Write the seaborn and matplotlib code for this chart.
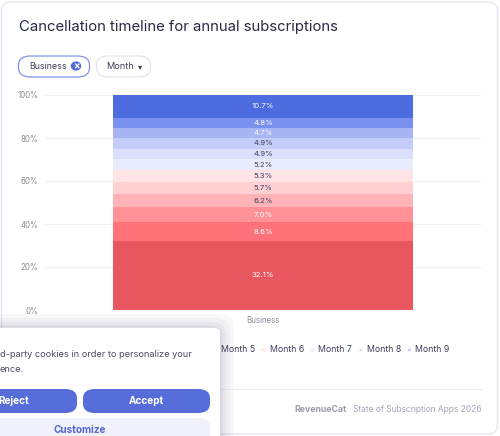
import matplotlib
matplotlib.use("Agg")
import matplotlib.pyplot as plt
import seaborn as sns
import numpy as np
import pandas as pd
from matplotlib.patches import FancyBboxPatch, Circle

# ---- data ----
category = "Business"
months = [f"Month {i}" for i in range(1, 13)]
shares = [32.1, 8.6, 7.0, 6.2, 5.7, 5.3, 5.2, 4.9, 4.9, 4.7, 4.8, 10.7]
colors = ["#E85760", "#FF7279", "#FF9297", "#FFB3B7", "#FFCFD2", "#FFE3E5",
          "#E9ECFD", "#DAE0FB", "#C4CDF8", "#A6B4F4", "#7A90EE", "#4C6CDF"]
label_dark = [False, False, False, True, True, True, True, True, True, False, False, False]
yticks = [0, 20, 40, 60, 80, 100]
ytick_labels = [f"{t}%" for t in yticks]
visible_legend = months[4:9]  # Months 1-4 are hidden behind the cookie banner

W, H = 500, 436
sns.set_theme(style="white")
plt.rcParams["font.family"] = ["Inter", "DejaVu Sans"]

fig = plt.figure(figsize=(W / 100, H / 100), dpi=100)
fig.patch.set_facecolor("white")

def fx(x):
    return x / W

def fy(y):
    return 1 - y / H

# card
card = FancyBboxPatch((fx(1.5), fy(434)), fx(496), 432 / H,
                      boxstyle="round,pad=0,rounding_size=0.02",
                      transform=fig.transFigure, facecolor="white",
                      edgecolor="#E3E5F6", linewidth=1.0, zorder=0)
fig.add_artist(card)

# title
fig.text(fx(19), fy(27), "Cancellation timeline for annual subscriptions",
         fontsize=10.7, color="#262A45", va="center", ha="left")

# chips
chip1 = FancyBboxPatch((fx(18.5), fy(77)), fx(71), 21 / H,
                       boxstyle="round,pad=0,rounding_size=0.024",
                       transform=fig.transFigure, facecolor="white",
                       edgecolor="#8391EA", linewidth=0.9, mutation_aspect=H / W)
fig.add_artist(chip1)
fig.text(fx(29), fy(66.5), "Business", fontsize=6.4, color="#3C4059", va="center")
fig.add_artist(Circle((fx(76), fy(66)), 0.0105, transform=fig.transFigure,
                      facecolor="#5469D9", edgecolor="none"))
fig.text(fx(76), fy(66.3), "×", fontsize=7, color="white", va="center", ha="center",
         fontweight="bold")
chip2 = FancyBboxPatch((fx(96.5), fy(77)), fx(54), 21 / H,
                       boxstyle="round,pad=0,rounding_size=0.024",
                       transform=fig.transFigure, facecolor="white",
                       edgecolor="#E4E5EC", linewidth=0.9, mutation_aspect=H / W)
fig.add_artist(chip2)
fig.text(fx(106), fy(66.5), "Month", fontsize=6.6, color="#3C4059", va="center")
fig.text(fx(138), fy(66.5), "▾", fontsize=6, color="#3C4059", va="center",
         family="DejaVu Sans")

# ---- plot ----
ax = fig.add_axes([fx(45), fy(310), fx(481) - fx(45), (310 - 95) / H])
ax.set_facecolor("none")
cum = np.cumsum(shares)
df = pd.DataFrame({"cat": [category] * 12, "month": months, "top": cum})
# draw cumulative stacks from top down so each lower segment overlays
for i in range(11, -1, -1):
    sns.barplot(data=df.iloc[[i]], x="cat", y="top", color=colors[i], width=0.69,
                ax=ax, saturation=1, edgecolor="none", linewidth=0, zorder=2)
bottoms = cum - np.array(shares)
for i, v in enumerate(shares):
    ax.text(0, bottoms[i] + v / 2, f"{v:.1f}%", ha="center", va="center",
            fontsize=5.6, color="#3D4160" if label_dark[i] else "white", zorder=3)

ax.set_ylim(0, 100)
ax.set_xlim(-0.5, 0.5)
ax.set_yticks(yticks)
ax.set_yticklabels(ytick_labels, fontsize=5.7, color="#8A8C99")
ax.yaxis.grid(True, color="#EFEFF3", linewidth=0.8, zorder=0)
ax.set_axisbelow(True)
for s in ax.spines.values():
    s.set_visible(False)
ax.tick_params(axis="both", length=0, pad=5)
ax.tick_params(axis="x", labelsize=5.7, labelcolor="#8A8C99", pad=4)
ax.set_xlabel("")
ax.set_ylabel("")

# legend (visible part of the row)
for j, m in enumerate(visible_legend):
    i = months.index(m)
    x0 = 221 + j * 48.6
    if j > 0:
        fig.add_artist(Circle((fx(x0 - 6), fy(350)), 0.0033, transform=fig.transFigure,
                              facecolor=colors[i], edgecolor="none"))
    fig.text(fx(x0), fy(350), m, fontsize=6.3, color="#3C4059", va="center", ha="left")

# footer
fig.add_artist(plt.Line2D([fx(20), fx(482)], [fy(388.5), fy(388.5)],
                          transform=fig.transFigure, color="#ECEDF3", linewidth=0.8))
fig.text(fx(347), fy(409), "RevenueCat", fontsize=6.3, color="#9A9CA8", ha="right",
         va="center", fontweight="bold")
fig.text(fx(482), fy(409), "State of Subscription Apps 2026", fontsize=6.05,
         color="#A5A7B3", ha="right", va="center")

# cookie banner overlay with soft shadow
for k, a in zip([14, 10, 6, 3], [0.03, 0.04, 0.05, 0.06]):
    sh = FancyBboxPatch((fx(-30), fy(470)), fx(250 + k), (142 + k) / H,
                        boxstyle="round,pad=0,rounding_size=0.03",
                        transform=fig.transFigure, facecolor="#3A3F60",
                        edgecolor="none", alpha=a, zorder=5)
    fig.add_artist(sh)
banner = FancyBboxPatch((fx(-30), fy(470)), fx(250), 142 / H,
                        boxstyle="round,pad=0,rounding_size=0.012",
                        transform=fig.transFigure, facecolor="white",
                        edgecolor="none", zorder=6)
fig.add_artist(banner)
fig.text(fx(0), fy(354), "d-party cookies in order to personalize your",
         fontsize=6.65, color="#4A4E66", va="center", zorder=7)
fig.text(fx(0), fy(369), "ence.", fontsize=6.65, color="#4A4E66", va="center", zorder=7)
btn_r = FancyBboxPatch((fx(-40), fy(413)), fx(117), 24 / H,
                       boxstyle="round,pad=0,rounding_size=0.024",
                       transform=fig.transFigure, facecolor="#566CD9",
                       edgecolor="none", zorder=7, mutation_aspect=H / W)
fig.add_artist(btn_r)
fig.text(fx(14), fy(401), "Reject", fontsize=7.2, color="white", ha="center",
         va="center", fontweight="bold", zorder=8)
btn_a = FancyBboxPatch((fx(83), fy(413)), fx(127), 24 / H,
                       boxstyle="round,pad=0,rounding_size=0.024",
                       transform=fig.transFigure, facecolor="#566CD9",
                       edgecolor="none", zorder=7, mutation_aspect=H / W)
fig.add_artist(btn_a)
fig.text(fx(146.5), fy(401), "Accept", fontsize=7.2, color="white", ha="center",
         va="center", fontweight="bold", zorder=8)
btn_c = FancyBboxPatch((fx(-40), fy(445)), fx(250), 27 / H,
                       boxstyle="round,pad=0,rounding_size=0.024",
                       transform=fig.transFigure, facecolor="#F1F1FC",
                       edgecolor="none", zorder=7, mutation_aspect=H / W)
fig.add_artist(btn_c)
fig.text(fx(80), fy(430), "Customize", fontsize=7.2, color="#5368D6", ha="center",
         va="center", fontweight="bold", zorder=8)

fig.savefig("out.png", dpi=100)
